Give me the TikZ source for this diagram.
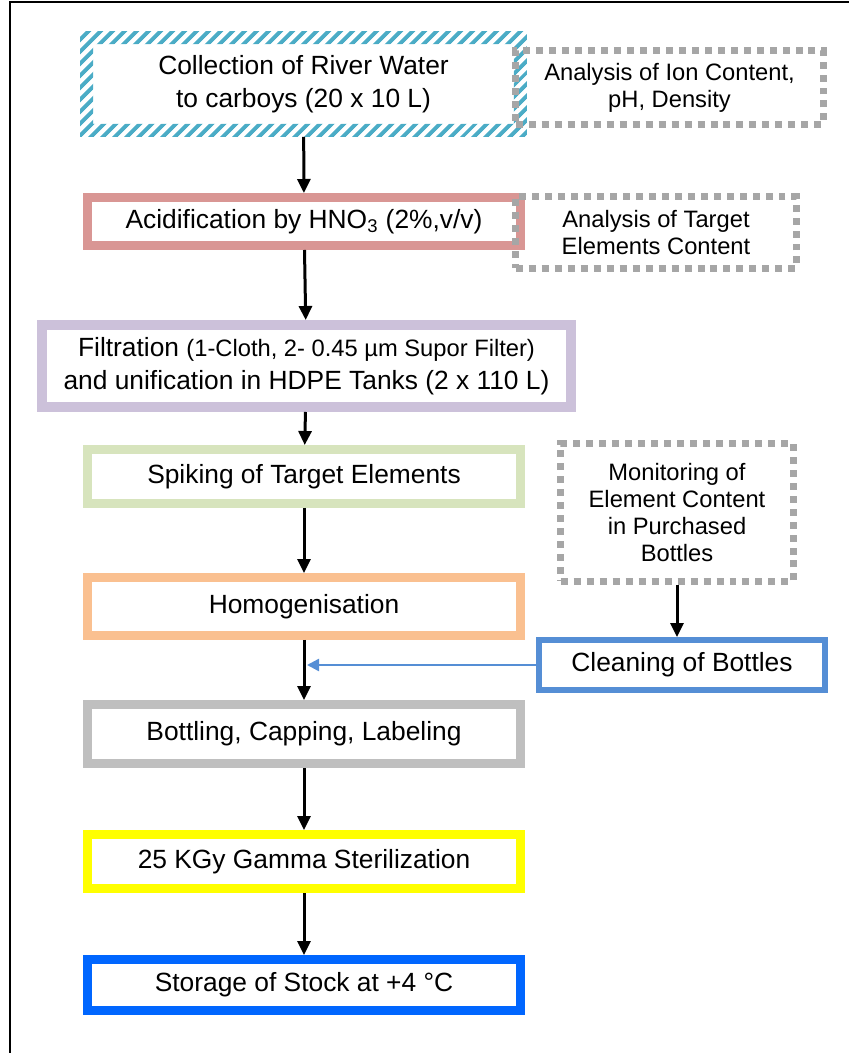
\documentclass[tikz,border=0pt]{standalone}
\usepackage{fontspec}
\setmainfont{Liberation Sans}
\usepackage{tikz}
\usetikzlibrary{arrows.meta}
\usetikzlibrary{calc}
\usetikzlibrary{patterns.meta}
\definecolor{hatchblue}{HTML}{4BACC6}
\definecolor{notegray}{HTML}{A6A6A6}
\definecolor{acidred}{HTML}{D99694}
\definecolor{filtlilac}{HTML}{CCC1DA}
\definecolor{spikegreen}{HTML}{D7E4BD}
\definecolor{homogorange}{HTML}{FAC090}
\definecolor{cleanblue}{HTML}{558ED5}
\definecolor{bottlgray}{HTML}{BFBFBF}
\definecolor{gammayellow}{HTML}{FFFF00}
\definecolor{storblue}{HTML}{0066FF}

\begin{document}
\begin{tikzpicture}[x=0.02cm, y=-0.02cm,
        stage/.style={draw=#1, line width=0.18cm, minimum width=8.66cm, inner sep=0pt, align=center, font=\fontsize{15}{18.5}\selectfont},
        note/.style={draw=notegray, line width=0.14cm, dash pattern=on 0.14cm off 0.12cm, inner sep=0pt, align=center, font=\fontsize{13.5}{15.5}\selectfont},
        flow/.style={line width=0.06cm, -{Triangle[width=0.26cm, length=0.28cm]}}]
            \useasboundingbox (0,0) rectangle (848,1053);
            \draw[line width=0.03cm] (10,1060) -- (10,2) -- (860,2);

            \draw (303.5,84) node[minimum width=8.94cm, minimum height=2.12cm, inner sep=0pt, outer sep=0pt, align=center, font=\fontsize{15}{18.5}\selectfont] (coll) {Collection of River Water\\to carboys (20 x 10 L)};
            \fill[pattern={Lines[angle=45, distance=0.18cm, line width=0.09cm]}, pattern color=hatchblue, even odd rule] (coll.south west) rectangle (coll.north east) ([shift={(13,-13)}]coll.south west) rectangle ([shift={(-13,13)}]coll.north east);
            \draw (669.5,87.5) node[note, minimum width=6.16cm, minimum height=1.48cm] (ion) {Analysis of Ion Content,\\pH, Density};

            \draw (304,221.5) node[stage=acidred, minimum height=0.96cm] (acid) {Acidification by HNO\textsubscript{3} (2\%,v/v)};
            \draw (656,232.5) node[note, minimum width=5.62cm, minimum height=1.44cm] (target) {Analysis of Target\\Elements Content};
            \draw (306.5,366) node[stage=filtlilac, line width=0.2cm, minimum width=10.58cm, minimum height=1.64cm] (filt) {Filtration {\fontsize{13.5}{18.5}\selectfont(1-Cloth, 2- 0.45 µm Supor Filter)}\\and unification in HDPE Tanks (2 x 110 L)};
            \draw (304,476.5) node[stage=spikegreen, minimum height=1.08cm] (spike) {Spiking of Target Elements};
            \draw (677,512.5) node[note, minimum width=4.66cm, minimum height=2.76cm] (monit) {Monitoring of\\Element Content\\in Purchased\\Bottles};
            \draw (304,606.5) node[stage=homogorange, minimum height=1.16cm] (homog) {Homogenisation};
            \draw (682,665) node[stage=cleanblue, line width=0.12cm, minimum width=5.72cm, minimum height=1.0cm] (clean) {Cleaning of Bottles};
            \draw (304,734) node[stage=bottlgray, minimum height=1.18cm] (bottl) {Bottling, Capping, Labeling};
            \draw (304,861.5) node[stage=gammayellow, minimum height=1.08cm] (gamma) {25 KGy Gamma Sterilization};
            \draw (304,985) node[stage=storblue, minimum height=1.02cm] (stor) {Storage of Stock at +4 °C};

            \draw[flow] (coll) -- (acid);
            \draw[flow] (acid) -- (filt);
            \draw[flow] (filt) -- (spike);
            \draw[flow] (spike) -- (homog);
            \draw[flow] (homog) -- (bottl);
            \draw[flow] (bottl) -- (gamma);
            \draw[flow] (gamma) -- (stor);
            \draw[flow] (monit.south) -- (monit.south |- clean.north);
            \draw[line width=0.05cm, cleanblue, -{Triangle[width=0.24cm, length=0.24cm]}] (clean.west) -- ($(homog.south |- clean.west)+(3,0)$);
\end{tikzpicture}
\end{document}
